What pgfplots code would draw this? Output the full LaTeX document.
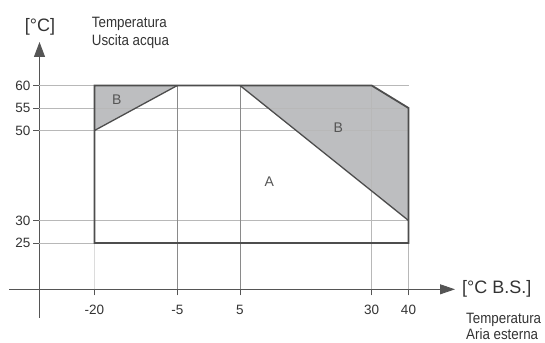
\documentclass[border=0pt]{standalone}
\usepackage{fontspec}
\setmainfont{Liberation Sans}
\newfontfamily\condfont[FakeStretch=0.89]{Liberation Sans}
\usepackage{pgfplots}
\pgfplotsset{compat=1.18}
\usetikzlibrary{arrows.meta}
\definecolor{fillB}{HTML}{BDBEC0}
\definecolor{border}{HTML}{4D4D4D}
\definecolor{axisgray}{HTML}{555555}
\definecolor{gridlight}{HTML}{B8B8B8}
\definecolor{griddark}{HTML}{8A8A8A}
\definecolor{gridfaint}{HTML}{DCDCDC}
\definecolor{txt}{HTML}{333333}
\begin{document}
\begin{tikzpicture}
\begin{axis}[
  x=1bp, y=4.5bp,
  xmin=39.5, xmax=455, ymin=14.71, ymax=69.67,
  enlargelimits=false,
  axis lines=left,
  axis line style={color=axisgray, line width=0.9bp},
  x axis line style={-{Triangle[length=15bp,width=10bp]}},
  y axis line style={-{Triangle[length=15bp,width=11bp]}},
  xtick={94.5,177.3,240,371.7,408.5},
  xticklabels={-20,-5,5,30,40},
  ytick={25,30,50,55,60},
  tick align=center, major tick length=12bp,
  tick style={axisgray, line width=0.9bp},
  /pgf/number format/assume math mode=true,
  ticklabel style={font=\fontsize{13.5bp}{16bp}\selectfont, text=txt},
  yticklabel style={anchor=east, inner sep=0pt, xshift=-3bp},
  xticklabel style={anchor=north, inner sep=0pt, yshift=-10bp},
  clip=false,
]
% bounding area
\path (axis cs:0,2.78) rectangle (axis cs:545,79);
% axis stubs
\addplot[axisgray, line width=0.9bp] coordinates {(9.5,14.71) (39.5,14.71)};
\addplot[axisgray, line width=0.9bp] coordinates {(39.5,14.71) (39.5,8.3)};
% shaded regions B
\addplot[draw=none, fill=fillB] coordinates {(94.5,60) (177.3,60) (94.5,50)} -- cycle;
\addplot[draw=none, fill=fillB] coordinates {(240,60) (371.7,60) (408.5,55) (408.5,30)} -- cycle;
% horizontal grid lines
\addplot[gridlight, line width=0.8bp] coordinates {(39.5,60) (408.5,60)};
\addplot[gridlight, line width=0.8bp] coordinates {(39.5,55) (408.5,55)};
\addplot[gridlight, line width=0.8bp] coordinates {(39.5,50) (408.5,50)};
\addplot[gridlight, line width=0.8bp] coordinates {(39.5,30) (408.5,30)};
\addplot[gridlight, line width=0.8bp] coordinates {(39.5,25) (408.5,25)};
% vertical grid lines
\addplot[gridfaint, line width=0.8bp] coordinates {(94.5,14.71) (94.5,25)};
\addplot[griddark, line width=0.8bp] coordinates {(177.3,14.71) (177.3,60)};
\addplot[griddark, line width=0.8bp] coordinates {(240,14.71) (240,60)};
\addplot[gridlight, line width=0.8bp] coordinates {(371.7,14.71) (371.7,60)};
\addplot[gridlight, line width=0.8bp] coordinates {(408.5,14.71) (408.5,25)};
% boundary of working area
\addplot[border, line width=1.8bp, line join=miter] coordinates {(94.5,25) (94.5,60) (371.7,60) (408.5,55) (408.5,25)} -- cycle;
% diagonals
\addplot[border, line width=1.3bp] coordinates {(94.5,50) (177.3,60)};
\addplot[border, line width=1.3bp] coordinates {(240,60) (408.5,30)};
% region labels
\node[text=axisgray, font=\fontsize{14bp}{16bp}\selectfont] at (axis cs:116.7,56.93) {B};
\node[text=axisgray, font=\fontsize{14bp}{16bp}\selectfont] at (axis cs:338.3,50.62) {B};
\node[text=axisgray, font=\fontsize{14bp}{16bp}\selectfont] at (axis cs:269.3,38.62) {A};
% axis titles
\node[text=txt, font=\fontsize{18bp}{20bp}\selectfont] at (axis cs:40,73.0) {[°C]};
\node[text=txt, anchor=base west, inner sep=0pt, font=\condfont\fontsize{15bp}{17bp}\selectfont] at (axis cs:91.7,72.89) {Temperatura};
\node[text=txt, anchor=base west, inner sep=0pt, font=\condfont\fontsize{15bp}{17bp}\selectfont] at (axis cs:91.7,68.78) {Uscita acqua};
\node[text=txt, anchor=west, inner sep=0pt, font=\fontsize{18bp}{20bp}\selectfont] at (axis cs:462,14.71) {[°C B.S.]};
\node[text=txt, anchor=base west, inner sep=0pt, font=\condfont\fontsize{15bp}{17bp}\selectfont] at (axis cs:466,7.16) {Temperatura};
\node[text=txt, anchor=base west, inner sep=0pt, font=\condfont\fontsize{15bp}{17bp}\selectfont] at (axis cs:466,3.6) {Aria esterna};
\end{axis}
\end{tikzpicture}
\end{document}
